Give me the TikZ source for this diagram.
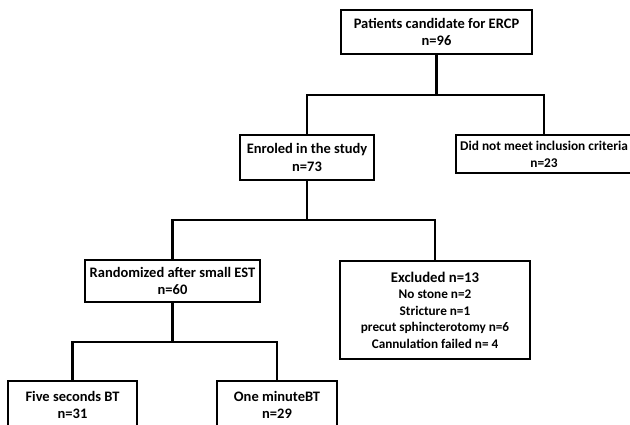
\documentclass[tikz,border=0pt]{standalone}
\usepackage{fontspec}
\setmainfont{Carlito}
\usepackage{tikz}
\usetikzlibrary{calc,positioning}

\tikzset{
	flowbox/.style={draw, line width=1.7pt, align=center, inner sep=0pt, font=\bfseries\fontsize{10.3}{12.3}\selectfont},
	flowline/.style={line width=1.7pt}
}

\begin{document}
\begin{tikzpicture}[x=0.025cm, y=-0.025cm]
		%%%%% START %%%%%
		
		\useasboundingbox (0, 0) rectangle (630, 425);
		\clip (0, 0) rectangle (630, 425);
		
		\node[flowbox, minimum width=191*0.025cm, minimum height=44*0.025cm] (top) at (436.5, 32) {Patients candidate for ERCP\\n=96};
		
		\node[flowbox, minimum width=134*0.025cm, minimum height=45*0.025cm] (enrol) at (307, 157.5) {Enroled in the study\\n=73};
		\node[flowbox, minimum width=176*0.025cm, minimum height=38*0.025cm, font=\bfseries\fontsize{9.5}{12}\selectfont] (notmeet) at (544, 154) {Did not meet inclusion criteria\\n=23};
		
		\node[flowbox, minimum width=175*0.025cm, minimum height=42*0.025cm] (random) at (172.5, 281) {Randomized after small EST\\n=60};
		\node[flowbox, minimum width=190*0.025cm, minimum height=98*0.025cm, font=\bfseries\fontsize{9.4}{11.7}\selectfont] (excl) at (435, 310) {{\fontsize{10.5}{11.7}\selectfont Excluded n=13}\\No stone n=2\\Stricture n=1\\precut sphincterotomy n=6\\Cannulation failed n= 4};
		
		\node[flowbox, minimum width=129*0.025cm, minimum height=48*0.025cm] (five) at (72.5, 405) {Five seconds BT\\n=31};
		\node[flowbox, minimum width=120*0.025cm, minimum height=48*0.025cm] (one) at (277, 405) {One minuteBT\\n=29};
		
		% forks
		\draw[flowline] (top.south) -- (top.south |- 0, 95) coordinate (f1);
		\draw[flowline] (enrol.north) |- (f1) -| (notmeet.north);
		
		\draw[flowline] (enrol.south) -- (enrol.south |- 0, 220) coordinate (f2);
		\draw[flowline] (random.north) |- (f2) -| (excl.north);
		
		\draw[flowline] (random.south) -- (random.south |- 0, 342) coordinate (f3);
		\draw[flowline] (five.north) |- (f3) -| (one.north);
		
		%%%%% END %%%%%
	\end{tikzpicture}
\end{document}
